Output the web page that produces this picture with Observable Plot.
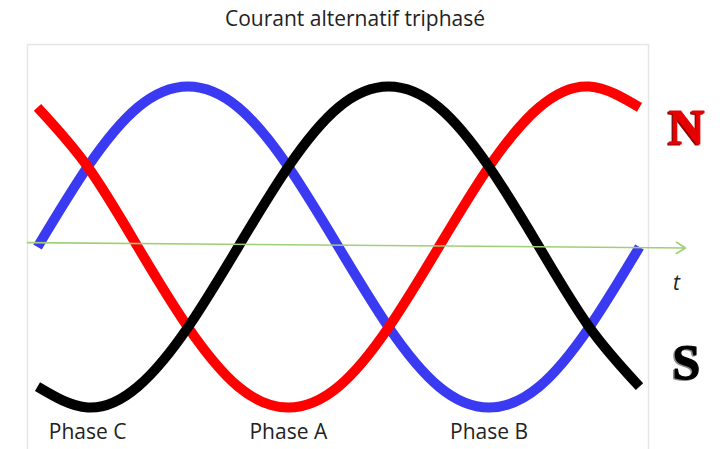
<!DOCTYPE html>
<html>
<head>
<meta charset="utf-8">
<script src="https://cdn.jsdelivr.net/npm/d3@7"></script>
<script src="https://cdn.jsdelivr.net/npm/@observablehq/plot@0.6"></script>
<style>
  html, body { margin: 0; padding: 0; background: #fff; }
  #wrap { width: 722px; height: 449px; overflow: hidden; font-family: "Open Sans", sans-serif; }
  #title { height: 36px; line-height: 36px; font-size: 21px; color: #222; text-align: center; padding-right: 12px; box-sizing: border-box; }
  svg { display: block; }
</style>
</head>
<body>
<div id="wrap">
  <div id="title">Courant alternatif triphasé</div>
  <div id="chart"></div>
</div>
<script>
// angle in degrees over one period
const angles = [0, 30, 60, 90, 120, 150, 180, 210, 240, 270, 300, 330, 360];
// Phase B (blue)
const phaseB = [0, 0.5, 0.87, 1, 0.87, 0.5, 0, -0.5, -0.87, -1, -0.87, -0.5, 0];
// Phase A (red)
const phaseA = [0.87, 0.5, 0, -0.5, -0.87, -1, -0.87, -0.5, 0, 0.5, 0.87, 1, 0.87];
// Phase C (black)
const phaseC = [-0.87, -1, -0.87, -0.5, 0, 0.5, 0.87, 1, 0.87, 0.5, 0, -0.5, -0.87];

const phaseNames = ["Phase C", "Phase A", "Phase B"];
const phaseAngles = [30, 150, 270];

// time axis arrow (slightly tilted in the original)
const axisX = [-6, 387.5];
const axisY = [0.027, -0.006];

const series = [
  {name: "Phase B", values: phaseB, color: "#3a3af2"},
  {name: "Phase A", values: phaseA, color: "#ff0000"},
  {name: "Phase C", values: phaseC, color: "#000000"}
];

const rows = series.flatMap(s => angles.map((a, i) => ({phase: s.name, angle: a, value: s.values[i], color: s.color})));
const labels = phaseNames.map((n, i) => ({name: n, angle: phaseAngles[i]}));
const arrowData = [{x1: axisX[0], y1: axisY[0], x2: axisX[1], y2: axisY[1]}];

const serif = "Liberation Serif, serif";
const pole = (txt, dx, dy, fill) => Plot.text([txt], {
  frameAnchor: "right", textAnchor: "middle", lineAnchor: "bottom", dx, dy,
  fontSize: 50, fontWeight: "bold", fontFamily: serif, fill, stroke: fill, strokeWidth: 1.2
});

const chart = Plot.plot({
  width: 722,
  height: 413,
  marginLeft: 37,
  marginRight: 83,
  marginTop: 50,
  marginBottom: 42,
  x: {domain: [0, 360], axis: null},
  y: {domain: [-1, 1], axis: null},
  style: {fontFamily: "Open Sans, sans-serif", background: "transparent", overflow: "visible"},
  marks: [
    Plot.frame({stroke: "#e6e6e6", strokeWidth: 1.5, insetLeft: -10, insetRight: -9, insetTop: -42, insetBottom: -60}),
    ...series.map(s => Plot.line(rows.filter(r => r.phase === s.name), {
      x: "angle", y: "value", stroke: s.color, strokeWidth: 10,
      curve: "natural", strokeLinecap: "butt", strokeLinejoin: "round"
    })),
    Plot.arrow(arrowData, {x1: "x1", y1: "y1", x2: "x2", y2: "y2",
      stroke: "#9fd077", strokeWidth: 1.6, headLength: 10, headAngle: 64}),
    Plot.text(labels, {x: "angle", y: () => -1, text: "name", dy: 31,
      lineAnchor: "bottom", fontSize: 21, fill: "#222"}),
    Plot.text(["t"], {frameAnchor: "right", textAnchor: "middle", dx: 37, dy: 42.5, lineAnchor: "bottom",
      fontSize: 21, fontStyle: "italic", fill: "#222"}),
    pole("N", 45.5, -102, "#8a0000"),
    pole("N", 47, -103.5, "#e60000"),
    pole("S", 45.5, 133, "#888"),
    pole("S", 47, 131.5, "#000")
  ]
});
document.getElementById("chart").appendChild(chart);
</script>
</body>
</html>
